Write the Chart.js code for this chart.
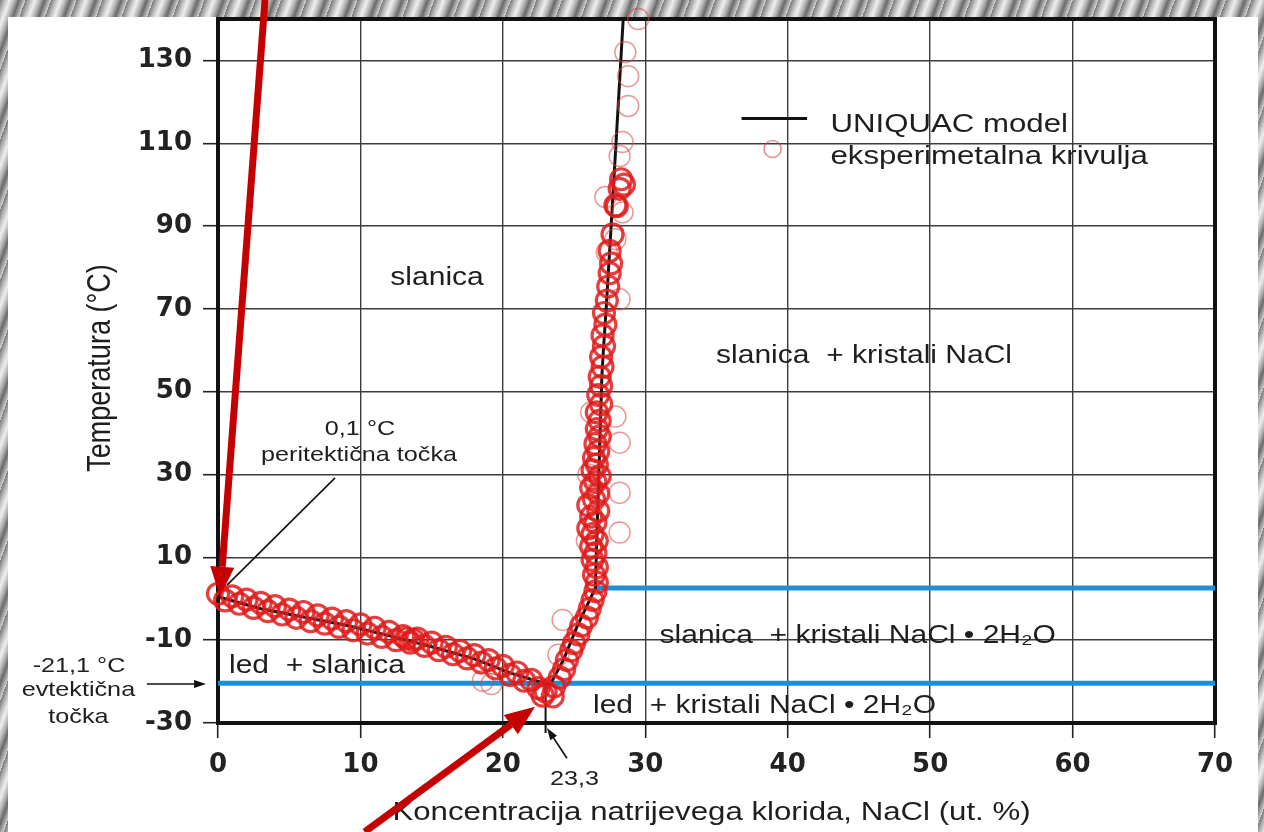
<!DOCTYPE html>
<html>
<head>
<meta charset="utf-8">
<title>NaCl - H2O</title>
<script src="https://cdn.jsdelivr.net/npm/chart.js@4.4.1/dist/chart.umd.min.js"></script>
<style>
  html, body { margin: 0; padding: 0; }
  body {
    width: 1264px; height: 832px; overflow: hidden; position: relative;
    background: repeating-linear-gradient(110deg, #7a7a7a 0px, #c4c4c4 5px, #efefef 9px, #b0b0b0 14px, #6a6a6a 18px, #d2d2d2 24px);
  }
  #paper { position: absolute; left: 8px; top: 17px; width: 1250px; height: 815px; background: #fff; }
  #box { position: absolute; left: 0; top: 0; width: 1264px; height: 832px; }
</style>
</head>
<body>
<div id="paper"></div>
<div id="box"><canvas id="chart" width="1264" height="832"></canvas></div>
<script>
var xTicks = [0, 10, 20, 30, 40, 50, 60, 70];
var yTicks = [-30, -10, 10, 30, 50, 70, 90, 110, 130];

// UNIQUAC model
var modelX = [0, 3, 6, 9, 12, 15, 18, 20.5, 23.3, 24.25, 25.2, 26.5, 26.55, 26.95, 27.05, 27.25, 27.6, 27.95, 28.45];
var modelY = [0.5, -2.4, -4.4, -6.4, -8.9, -11.6, -14.5, -17.9, -20.8, -14.8, -6.8, 2.6, 9.4, 53.7, 59.5, 69.9, 90, 110.3, 140];

// eksperimentalna krivulja - ice branch
var iceX = [0.0, 0.5, 1.0, 1.5, 2.0, 2.5, 3.0, 3.5, 4.0, 4.5, 5.0, 5.5, 6.0, 6.5, 7.0, 7.5, 8.0, 8.5, 9.0, 9.5,
            10.0, 10.5, 11.0, 11.5, 12.0, 12.5, 13.0, 13.5, 14.0, 14.5, 15.0, 15.5, 16.0, 16.5, 17.0, 17.5, 18.0, 18.5, 19.0, 19.5,
            20.0, 20.5, 21.0, 21.5, 22.0, 22.5, 23.0, 23.6, 22.8, 23.5, 13.2, 13.7];
var iceY = [1.2, -0.4, 0.6, -1.2, -0.2, -2.2, -1.0, -3.0, -1.8, -3.8, -2.6, -4.6, -3.2, -5.4, -4.0, -6.0, -4.8, -6.8, -5.4, -7.6,
            -6.2, -8.4, -7.0, -9.2, -8.0, -10.0, -9.0, -10.6, -9.6, -11.4, -10.6, -12.4, -11.6, -13.4, -12.6, -14.4, -13.6, -15.4, -14.8, -16.8,
            -16.2, -18.4, -17.8, -19.8, -19.6, -21.6, -22.4, -21.2, -23.4, -23.6, -9.6, -9.9];

// eksperimentalna krivulja - NaCl / NaCl.2H2O branch
var saltX = [24.0, 24.3, 24.5, 24.8, 25.0, 25.3, 25.5, 25.9, 26.1, 26.3, 26.5, 26.6, 26.4, 26.6, 26.3, 26.5, 26.2, 26.6, 26.3, 26.0,
             26.5, 26.2, 26.7, 26.0, 26.4, 26.7, 26.2, 26.5, 26.8, 26.3, 26.6, 26.4, 26.7, 26.5, 26.8, 26.6, 26.8, 26.6, 26.9, 26.7,
             26.9, 26.8, 27.0, 26.9, 27.1, 27.0, 27.2, 27.1, 27.3, 27.4, 27.5, 27.6, 27.5, 27.7, 27.9, 28.3, 28.5, 28.2, 28.0];
var saltY = [-19.0, -17.0, -14.8, -12.5, -10.7, -8.6, -6.5, -4.5, -2.4, -0.3, 1.8, 3.9, 5.8, 7.6, 9.4, 11.0, 12.6, 14.0, 15.6, 17.0,
             18.4, 19.8, 21.2, 22.6, 24.0, 25.4, 26.8, 28.2, 29.6, 31.0, 32.4, 34.0, 35.6, 37.4, 39.2, 41.0, 43.0, 45.0, 47.0, 49.2,
             51.4, 53.6, 56.0, 58.4, 61.0, 63.6, 66.2, 69.0, 72.0, 75.4, 78.6, 81.0, 84.0, 88.0, 95.0, 101.3, 100.0, 99.0, 94.8];

// faint circles
var fadeX = [19.2, 24.2, 23.9, 28.2, 28.2, 28.2, 27.9, 28.2, 27.3, 27.9, 28.4, 28.2, 28.4, 28.8, 28.8, 28.6, 29.5, 26.0, 25.9, 26.2, 18.6, 27.2];
var fadeY = [-20.6, -5.1, -13.5, 16.0, 25.6, 37.7, 44.0, 72.3, 83.7, 86.8, 93.3, 106.9, 110.3, 119.0, 126.2, 132.0, 140.0, 30.0, 14.0, 45.0, -19.8, 97.0];

// phase boundaries
var eutecticX = [0, 70];
var eutecticY = [-20.4, -20.4];
var peritecticX = [26.5, 70];
var peritecticY = [2.6, 2.6];
var eutMarkX = [23.0, 23.0];
var eutMarkY = [-20.4, -32.4];

function toPoints(xs, ys) {
    var pts = [];
    for (var i = 0; i < xs.length; i++) {
        pts.push({x: xs[i], y: ys[i]});
    }
    return pts;
}

var textFont = '"Liberation Sans", Arial, sans-serif';
var stretch = 1.2;

// texts placed in data units
var notes = [
    {t: 'slanica', x: 15.38, y: 75.8, size: 25, align: 'center'},
    {t: 'slanica  + kristali NaCl', x: 34.97, y: 56.9, size: 25, align: 'left'},
    {t: 'slanica  + kristali NaCl \u2022 2H\u2082O', x: 31.0, y: -10.6, size: 25, align: 'left'},
    {t: 'led  + kristali NaCl \u2022 2H\u2082O', x: 26.33, y: -27.7, size: 25, align: 'left'},
    {t: 'led  + slanica', x: 0.77, y: -17.9, size: 25, align: 'left'},
    {t: 'UNIQUAC model', x: 43.0, y: 112.6, size: 26, align: 'left'},
    {t: 'eksperimetalna krivulja', x: 43.0, y: 105.0, size: 26, align: 'left'},
    {t: '0,1 \u00b0C', x: 9.97, y: 39.5, size: 21, align: 'center'},
    {t: 'peritektična točka', x: 9.9, y: 33.3, size: 21, align: 'center'},
    {t: '-21,1 \u00b0C', x: -9.76, y: -17.6, size: 21, align: 'center'},
    {t: 'evtektična', x: -9.8, y: -23.6, size: 21, align: 'center'},
    {t: 'točka', x: -9.8, y: -29.9, size: 21, align: 'center'},
    {t: '23,3', x: 25.03, y: -45.0, size: 21, align: 'center'}
];

// thin black pointers and the red arrows, in data units
var pointers = [
    {x1: 8.22, y1: 29.2, x2: 0.63, y2: 3.3, w: 1.6, head: 0, hw: 0, c: '#111'},
    {x1: -4.99, y1: -20.6, x2: -0.84, y2: -20.6, w: 1.6, head: 12, hw: 8, c: '#111'},
    {x1: 24.5, y1: -38.5, x2: 23.1, y2: -31.2, w: 1.6, head: 12, hw: 8, c: '#111'},
    {x1: 3.3, y1: 144.6, x2: 0.14, y2: 0.5, w: 7, head: 30, hw: 24, c: '#c40000'},
    {x1: 10.3, y1: -56.3, x2: 22.26, y2: -26.1, w: 7, head: 30, hw: 24, c: '#c40000'}
];

function putText(ctx, text, px, py, size, align) {
    ctx.save();
    ctx.translate(px, py);
    ctx.scale(stretch, 1);
    ctx.font = size + 'px ' + textFont;
    ctx.textAlign = align;
    ctx.textBaseline = 'alphabetic';
    ctx.fillStyle = '#1e1e1e';
    ctx.fillText(text, 0, 0);
    ctx.restore();
}

function arrow(ctx, x1, y1, x2, y2, w, head, hw, color) {
    var a = Math.atan2(y2 - y1, x2 - x1);
    var bx = x2 - Math.cos(a) * head;
    var by = y2 - Math.sin(a) * head;
    ctx.save();
    ctx.strokeStyle = color;
    ctx.fillStyle = color;
    ctx.lineWidth = w;
    ctx.beginPath();
    ctx.moveTo(x1, y1);
    ctx.lineTo(head > 0 ? bx : x2, head > 0 ? by : y2);
    ctx.stroke();
    if (head > 0) {
        ctx.beginPath();
        ctx.moveTo(x2, y2);
        ctx.lineTo(bx + Math.sin(a) * hw / 2, by - Math.cos(a) * hw / 2);
        ctx.lineTo(bx - Math.sin(a) * hw / 2, by + Math.cos(a) * hw / 2);
        ctx.closePath();
        ctx.fill();
    }
    ctx.restore();
}

var framePlugin = {
    id: 'frame',
    beforeDatasetsDraw: function(chart) {
        var ctx = chart.ctx, ca = chart.chartArea;
        ctx.save();
        ctx.strokeStyle = '#111';
        ctx.lineWidth = 4;
        ctx.strokeRect(ca.left, ca.top, ca.right - ca.left, ca.bottom - ca.top);
        ctx.restore();
    }
};

var notesPlugin = {
    id: 'notes',
    afterDraw: function(chart) {
        var ctx = chart.ctx, ca = chart.chartArea;
        var sx = chart.scales.x, sy = chart.scales.y;

        // axis titles
        putText(ctx, 'Koncentracija natrijevega klorida, NaCl (ut. %)', (ca.left + ca.right) / 2 - 5, 820, 26, 'center');
        ctx.save();
        ctx.translate(ca.left - 108, (ca.top + ca.bottom) / 2 - 3);
        ctx.scale(stretch, 1);
        ctx.rotate(-Math.PI / 2);
        ctx.font = '27px ' + textFont;
        ctx.textAlign = 'center';
        ctx.fillStyle = '#1e1e1e';
        ctx.fillText('Temperatura (\u00b0C)', 0, 0);
        ctx.restore();

        // legend symbols
        ctx.save();
        ctx.strokeStyle = '#111';
        ctx.lineWidth = 3;
        ctx.beginPath();
        ctx.moveTo(sx.getPixelForValue(36.76), sy.getPixelForValue(116));
        ctx.lineTo(sx.getPixelForValue(41.36), sy.getPixelForValue(116));
        ctx.stroke();
        ctx.strokeStyle = 'rgba(215,70,70,0.6)';
        ctx.lineWidth = 1.6;
        ctx.beginPath();
        ctx.arc(sx.getPixelForValue(38.94), sy.getPixelForValue(108.6), 8.5, 0, Math.PI * 2);
        ctx.stroke();
        ctx.restore();

        notes.forEach(function(n) {
            putText(ctx, n.t, sx.getPixelForValue(n.x), sy.getPixelForValue(n.y), n.size, n.align);
        });
        pointers.forEach(function(p) {
            arrow(ctx, sx.getPixelForValue(p.x1), sy.getPixelForValue(p.y1),
                  sx.getPixelForValue(p.x2), sy.getPixelForValue(p.y2), p.w, p.head, p.hw, p.c);
        });
    }
};

var circleStyle = {
    pointRadius: 10.5,
    pointBorderWidth: 3.2,
    pointBorderColor: 'rgba(224,28,28,0.85)',
    pointBackgroundColor: 'rgba(0,0,0,0)',
    clip: false,
    order: 1
};

var ctx = document.getElementById('chart').getContext('2d');
var chart = new Chart(ctx, {
    type: 'scatter',
    data: {
        datasets: [
            Object.assign({label: 'eksperimetalna krivulja', data: toPoints(iceX, iceY)}, circleStyle),
            Object.assign({label: 'eksperimetalna krivulja 2', data: toPoints(saltX, saltY)}, circleStyle),
            {
                label: 'faint',
                data: toPoints(fadeX, fadeY),
                pointRadius: 10.5,
                pointBorderWidth: 1.5,
                pointBorderColor: 'rgba(215,70,70,0.55)',
                pointBackgroundColor: 'rgba(0,0,0,0)',
                clip: false,
                order: 1
            }, {
                label: 'UNIQUAC model',
                data: toPoints(modelX, modelY),
                showLine: true,
                borderColor: '#111',
                borderWidth: 3,
                pointRadius: 0,
                order: 2
            }, {
                label: 'eutectic mark',
                data: toPoints(eutMarkX, eutMarkY),
                showLine: true,
                borderColor: '#111',
                borderWidth: 2,
                pointRadius: 0,
                clip: false,
                order: 2
            }, {
                label: 'eutectic',
                data: toPoints(eutecticX, eutecticY),
                showLine: true,
                borderColor: '#1e8fd4',
                borderWidth: 5,
                pointRadius: 0,
                order: 3
            }, {
                label: 'peritectic',
                data: toPoints(peritecticX, peritecticY),
                showLine: true,
                borderColor: '#1e8fd4',
                borderWidth: 5,
                pointRadius: 0,
                order: 3
            }
        ]
    },
    options: {
        responsive: false,
        animation: false,
        layout: { padding: { top: 19, right: 49, left: 0, bottom: 0 } },
        plugins: {
            legend: { display: false },
            tooltip: { enabled: false }
        },
        scales: {
            x: {
                type: 'linear',
                min: 0,
                max: 70,
                afterBuildTicks: function(s) { s.ticks = xTicks.map(function(v) { return {value: v}; }); },
                afterFit: function(s) { s.height = 109; s.paddingLeft = 0; s.paddingRight = 0; },
                grid: { color: '#3c3c3c', lineWidth: 1.4, tickLength: 15, tickColor: '#222', tickWidth: 1.6 },
                border: { display: false },
                ticks: { color: '#222', padding: 12, font: { family: '"DejaVu Sans", Verdana, sans-serif', size: 26, weight: 'bold' } }
            },
            y: {
                type: 'linear',
                min: -30,
                max: 140,
                afterBuildTicks: function(s) { s.ticks = yTicks.map(function(v) { return {value: v}; }); },
                afterFit: function(s) { s.width = 218; s.paddingTop = 0; s.paddingBottom = 0; },
                grid: { color: '#3c3c3c', lineWidth: 1.4, tickLength: 15, tickColor: '#222', tickWidth: 1.6 },
                border: { display: false },
                ticks: { color: '#222', padding: 11, font: { family: '"DejaVu Sans", Verdana, sans-serif', size: 26, weight: 'bold' } }
            }
        }
    },
    plugins: [framePlugin, notesPlugin]
});
</script>
</body>
</html>
